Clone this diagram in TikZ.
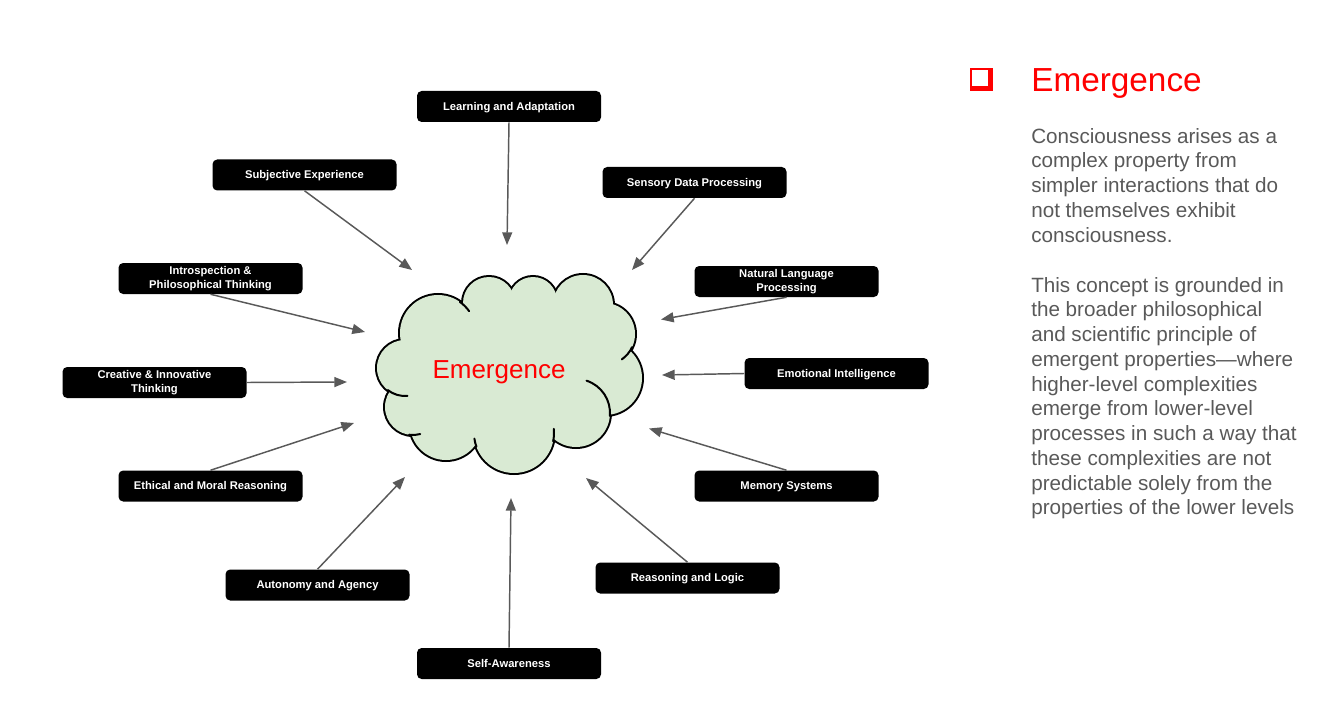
\documentclass[tikz,border=0pt]{standalone}
\usepackage{fontspec}
\setmainfont{Liberation Sans}
\usetikzlibrary{arrows.meta}
\definecolor{arrowgray}{HTML}{595959}
\definecolor{txtgray}{HTML}{595959}
\definecolor{cloudgreen}{HTML}{D9EAD3}
\definecolor{emred}{HTML}{FF0000}
\begin{document}
\begin{tikzpicture}[x=0.75pt,y=-0.75pt,
  lbox/.style={fill=black,rounded corners=3.5pt,minimum width=138pt,minimum height=23.25pt,inner sep=1pt,text=white,align=center,font=\fontsize{8.4}{10.5}\selectfont\bfseries,execute at begin node={\rule[-0.21em]{0pt}{1.11em}}},
  conn/.style={draw=arrowgray,line width=1.1pt,-{Triangle[length=9.5pt,width=7.5pt]}},
  cloudline/.style={line width=1.5pt,line cap=round},
  bodytext/.style={anchor=north west,inner sep=0pt,align=left,text=txtgray,font=\fontsize{15.5}{18.56}\selectfont}]
\useasboundingbox (0,0) rectangle (1331,706);

% ---- cloud ----
\foreach \cx/\cy/\r in {438/333/38, 489/303/26, 533/301/24, 583/305/30, 604/334/31, 605/378/37, 576/413/34, 514/433/40, 446/424/36, 413/407/28, 405/368/28}
  \draw[line width=3pt,fill=cloudgreen] (\cx,\cy) circle[radius=\r];
\fill[cloudgreen] (438,333) -- (489,303) -- (533,301) -- (583,305) -- (604,334) -- (605,378) -- (576,413) -- (514,433) -- (446,424) -- (413,407) -- (405,368) -- cycle;
\foreach \cx/\cy/\r in {438/333/38, 489/303/26, 533/301/24, 583/305/30, 604/334/31, 605/378/37, 576/413/34, 514/433/40, 446/424/36, 413/407/28, 405/368/28}
  \fill[cloudgreen] (\cx,\cy) circle[radius=\r];
% inner strokes of the cloud
\draw[cloudline] (604,334) ++(25:31) arc[start angle=25,end angle=55,radius=31];
\draw[cloudline] (576,413) ++(5:34) arc[start angle=5,end angle=-72,radius=34];
\draw[cloudline] (405,368) ++(128:28) arc[start angle=128,end angle=85,radius=28];
\draw[cloudline] (438,333) ++(-55:38) arc[start angle=-55,end angle=-35,radius=38];
\draw[cloudline] (514,433) ++(12:40) arc[start angle=12,end angle=-6,radius=40];
\draw[cloudline] (514,433) ++(160:40) arc[start angle=160,end angle=172,radius=40];
\draw[cloudline] (413,407) ++(98:28) arc[start angle=98,end angle=75,radius=28];

\node[anchor=base,inner sep=0pt,text=emred,font=\fontsize{19.5}{23}\selectfont] (cloudtext) at (499,378.5) {Emergence};

% ---- boxes ----
\node[lbox] (learn)  at (509,106.5) {Learning and Adaptation};
\node[lbox] (subj)   at (304.5,175) {Subjective Experience};
\node[lbox] (sens)   at (694.5,182.5) {Sensory Data Processing};
\node[lbox] (intro)  at (210.5,278.5) {Introspection \&\\Philosophical Thinking};
\node[lbox] (nlp)    at (786.5,281.5) {Natural Language\\Processing};
\node[lbox] (creat)  at (154.5,382.5) {Creative \& Innovative\\Thinking};
\node[lbox] (emot)   at (836.5,373.5) {Emotional Intelligence};
\node[lbox] (ethic)  at (210.5,486) {Ethical and Moral Reasoning};
\node[lbox] (mem)    at (786.5,486) {Memory Systems};
\node[lbox] (auton)  at (317.5,585) {Autonomy and Agency};
\node[lbox] (reason) at (687.5,578) {Reasoning and Logic};
\node[lbox] (self)   at (509,663.5) {Self-Awareness};

% ---- arrow tips ----
\coordinate (tlearn)  at (507,245);
\coordinate (tsubj)   at (412,270);
\coordinate (tsens)   at (632,270);
\coordinate (tintro)  at (365,332);
\coordinate (tnlp)    at (661,319.5);
\coordinate (tcreat)  at (347,382);
\coordinate (temot)   at (662,375);
\coordinate (tethic)  at (354,423);
\coordinate (tmem)    at (649,428.5);
\coordinate (tauton)  at (405,477);
\coordinate (treason) at (586,478);
\coordinate (tself)   at (511,498);

\draw[conn] (learn.south) -- (tlearn);
\draw[conn] (subj.south) -- (tsubj);
\draw[conn] (sens.south) -- (tsens);
\draw[conn] (intro.south) -- (tintro);
\draw[conn] (nlp.south) -- (tnlp);
\draw[conn] (creat.east) -- (tcreat);
\draw[conn] (emot.west) -- (temot);
\draw[conn] (ethic.north) -- (tethic);
\draw[conn] (mem.north) -- (tmem);
\draw[conn] (auton.north) -- (tauton);
\draw[conn] (reason.north) -- (treason);
\draw[conn] (self.north) -- (tself);

% ---- right panel ----
\fill[emred] (970,68) rectangle (993,91);
\fill[white] (972,70) rectangle (988,86);
\node[anchor=base west,inner sep=0pt,text=emred,font=\fontsize{25}{30}\selectfont] (title) at (1031,92) {Emergence};
\node[bodytext] (para1) at (1031,128) {Consciousness arises as a\\complex property from\\simpler interactions that do\\not themselves exhibit\\consciousness.};
\node[bodytext] (para2) at (1031,277) {This concept is grounded in\\the broader philosophical\\and scientific principle of\\emergent properties---where\\higher-level complexities\\emerge from lower-level\\processes in such a way that\\these complexities are not\\predictable solely from the\\properties of the lower levels};
\end{tikzpicture}
\end{document}
